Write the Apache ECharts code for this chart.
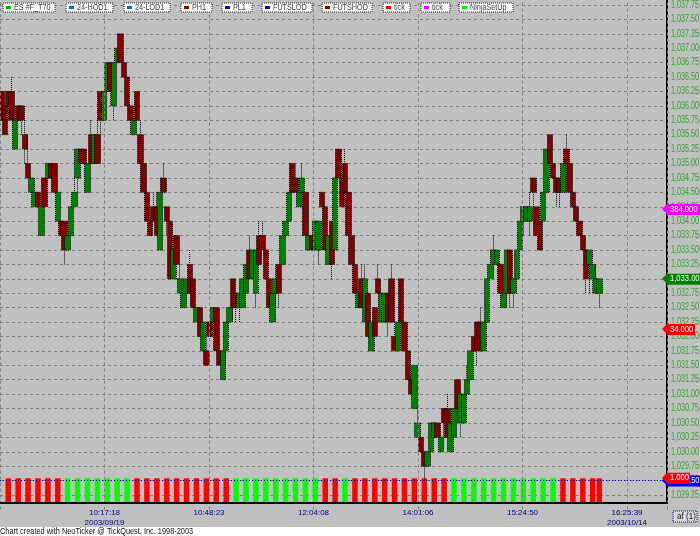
<!DOCTYPE html>
<html>
<head>
<meta charset="utf-8">
<script src="https://cdn.jsdelivr.net/npm/echarts@6/dist/echarts.min.js"></script>
<style>html,body{margin:0;padding:0;background:#fff}#c{width:700px;height:536px}</style>
</head>
<body>
<div id="c"></div>
<script>
const opens=[1036.25,1036,1036.25,1036.25,1035.25,1036,1036,1035.5,1035,1034.5,
1034.25,1034.5,1033.75,1034.75,1034.75,1035,1035,1034,1034,1034,
1033.5,1033.75,1034.25,1034.75,1035.25,1035.25,1034.5,1035.5,1035,1035.5,
1036.25,1035.75,1036.25,1036.75,1036,1036.75,1037.25,1036.75,1036.5,1036,
1035.5,1036.25,1035.5,1035,1034.5,1034,1034.25,1034.25,1033.5,1034.75,
1034.25,1034,1033,1033.75,1032.75,1032.5,1032.75,1033.25,1033,1032.25,
1032.5,1031.75,1031.75,1032.25,1032.25,1032.5,1031.75,1031.25,1031.75,1032.25,
1033,1032.75,1032.5,1032.5,1032.75,1033.5,1033,1032.75,1033.75,1033.75,
1033.5,1033,1032.25,1032.75,1033.25,1033.25,1033.75,1034,1035,1034.75,
1034.25,1034.5,1034.5,1033.5,1033.75,1033.5,1033.5,1034.5,1034.25,1033.25,
1034,1033.5,1035.25,1034.75,1035,1034.5,1033.75,1033.25,1032.5,1033,
1032.25,1032.75,1031.75,1032.5,1033,1032.25,1032.25,1032.75,1033,1032,
1031.75,1033,1032.25,1031.75,1031.25,1030.75,1030.25,1030.25,1030,1029.75,
1030,1030.25,1030.5,1030,1030.75,1030.75,1030,1030.25,1031.25,1030.5,
1030.5,1031,1031.25,1032,1032.25,1032.25,1031.75,1032.25,1033,1033.25,
1033.25,1033.25,1032.5,1032.75,1033.5,1032.75,1033,1033.5,1034,1034,
1034,1034.75,1034.25,1034,1034,1034.5,1035.5,1035,1034.75,1034.75,
1034.5,1035.25,1035,1034.5,1034.25,1034,1033.75,1033.5,1033.25,1033,
1032.75,1032.75];
const closes=[1035.75,1035.5,1036,1035.75,1035.75,1035.75,1035.75,1035.25,1034.75,1034.75,
1034.5,1034.25,1034.25,1034.25,1035,1034.75,1034.5,1034.5,1033.75,1033.5,
1033.75,1034.25,1034.5,1035.25,1035,1035,1035,1035,1035.5,1035,
1035.75,1036.25,1036.75,1036.25,1036.75,1037,1036.75,1036.5,1036,1035.75,
1035.75,1035.75,1035,1034.5,1034,1033.75,1034,1033.75,1034.5,1034.5,
1034,1033,1033.5,1033.25,1033,1032.75,1033,1032.75,1032.5,1032.5,
1032,1032.25,1031.5,1032,1032.5,1031.75,1031.5,1031.75,1032.25,1032.5,
1032.5,1032.5,1032.75,1033,1033.25,1033,1033.5,1033.5,1033.25,1033.5,
1033,1032.5,1032.75,1033,1032.75,1033.75,1034,1034.5,1034.5,1034.5,
1034.5,1034.75,1033.75,1033.75,1033.5,1034,1034,1034.25,1033.5,1033.75,
1033.25,1034.75,1034.75,1034.25,1034.5,1033.75,1033.25,1032.75,1032.75,1032.5,
1033,1032,1032.25,1032,1032.75,1032.75,1032.75,1032.25,1032.25,1031.75,
1032.25,1032.25,1031.75,1031.25,1031,1031.5,1030.5,1030,1029.75,1030,
1030.5,1030.5,1030.25,1030.25,1030.5,1030.25,1030.5,1030.75,1030.75,1031,
1031,1031.25,1031.75,1031.75,1031.75,1031.75,1032.25,1033,1033.25,1033.5,
1033.5,1032.75,1032.75,1033.5,1032.75,1033,1033.5,1034,1034.25,1034.25,
1034.25,1034.5,1033.75,1033.5,1034.5,1035.25,1035,1034.75,1034.5,1034.5,
1035,1035,1034.5,1034.25,1034,1033.75,1033.5,1033,1033.5,1033.25,
1033,1033];
const lows=[1035.75,1035.5,1036,1035.75,1035.25,1035.75,1035.5,1035,1034.75,1034.5,
1034.25,1034.25,1033.75,1034.25,1034.75,1034.75,1034.5,1034,1033.75,1033.25,
1033.5,1033.75,1034.25,1034.5,1034.75,1035,1034.5,1035,1035,1035,
1035.5,1035.75,1036.25,1036,1035.75,1036.75,1036.75,1036.5,1036,1035.75,
1035.5,1035.75,1035,1034.5,1034,1033.75,1034,1033.75,1033.5,1034.5,
1033.75,1033,1033,1033.25,1032.75,1032.5,1032.75,1032.75,1032.5,1032.25,
1032,1031.75,1031.5,1032,1032.25,1031.75,1031.5,1031.25,1031.5,1032.25,
1032.25,1032.25,1032.25,1032.5,1032.75,1033,1033,1032.5,1033.25,1033.5,
1033,1032.5,1032.25,1032.5,1032.5,1033.25,1033.75,1034,1034.5,1034.5,
1034.25,1034.5,1033.75,1033.5,1033.5,1033.5,1033.25,1034.25,1033.5,1033.25,
1033,1033.5,1034.75,1034.25,1034.5,1033.75,1033.25,1032.75,1032.5,1032.5,
1032.25,1032,1031.75,1032,1032.75,1032.25,1032.25,1032,1032.25,1031.75,
1031.75,1032.25,1031.75,1031.25,1031,1030.75,1030.25,1030,1029.5,1029.75,
1030,1030.25,1030.25,1030,1030.25,1030.25,1030,1030.25,1030.75,1030.25,
1030.5,1031,1031.25,1031.75,1031.5,1031.75,1031.75,1032.25,1033,1033.25,
1033.25,1032.75,1032.5,1032.5,1032.5,1032.5,1033,1033.5,1033.75,1034,
1033.75,1034.25,1033.75,1033.5,1034,1034.5,1035,1034.75,1034.25,1034.25,
1034.5,1035,1034.5,1034.25,1034,1033.75,1033.5,1032.75,1032.75,1032.75,
1032.75,1032.5];
const highs=[1036.25,1036,1036.25,1036.5,1035.75,1036,1036,1035.75,1035.5,1034.75,
1034.5,1034.5,1034.25,1034.75,1035,1035,1035,1034.5,1034,1034,
1033.75,1034.25,1034.75,1035.25,1035.25,1035.25,1035,1035.75,1035.5,1035.75,
1036.25,1036.25,1036.75,1036.75,1036.75,1037,1037.25,1036.75,1036.5,1036,
1035.75,1036.25,1035.75,1035,1034.5,1034,1034.5,1034.5,1034.5,1035,
1034.25,1034,1033.5,1033.75,1033.25,1032.75,1033,1033.5,1033,1032.5,
1032.5,1032.25,1032,1032.25,1032.5,1032.5,1031.75,1031.75,1032.25,1032.5,
1033,1032.75,1032.75,1033,1033.25,1033.75,1033.5,1033.5,1034,1034,
1033.5,1033,1032.75,1033.25,1033.25,1033.75,1034,1034.5,1035,1035,
1034.5,1035,1034.5,1033.75,1033.75,1034,1034,1034.5,1034.25,1033.75,
1034,1034.75,1035.25,1034.75,1035.25,1034.5,1033.75,1033.25,1032.75,1033.25,
1033.25,1032.75,1032.25,1032.5,1033.25,1032.75,1032.75,1032.75,1033.25,1032.25,
1032.25,1033,1032.25,1031.75,1031.25,1031.5,1030.75,1030.25,1030,1030,
1030.5,1030.5,1030.5,1030.25,1030.75,1031,1030.5,1030.75,1031.25,1031,
1031,1031.5,1031.75,1032,1032.25,1032.5,1032.25,1033,1033.5,1033.75,
1033.5,1033.25,1032.75,1033.5,1033.5,1033,1033.5,1034,1034.25,1034.25,
1034.5,1034.75,1034.25,1034,1034.5,1035.25,1035.5,1035,1034.75,1034.75,
1035,1035.5,1035,1034.5,1034.25,1034,1033.75,1033.5,1033.5,1033.5,
1033.25,1033];
const setupBars='RRRRRRGGGGGGGRRRRRRRRRRGGGGGGGGGRRGRRRRRRRRRRGGGGGGGGGGGRRRRR'.split('');
const timeLabels=['10:17:18\n2003/09/19','10:48:23','12:04:08','14:01:06','15:24:50','16:25:39\n2003/10/14'];
const priceTicks=[1037.75,1037.5,1037.25,1037,1036.75,1036.5,1036.25,1036,1035.75,1035.5,1035.25,1035,1034.75,1034.5,1034.25,1034,1033.75,1033.5,1033.25,1033,1032.75,1032.5,1032.25,1032,1031.75,1031.5,1031.25,1031,1030.75,1030.5,1030.25,1030,1029.75,1029.5,1029.25];
const tagValues=[1034.21,1033,1032.13,1029.5,1029.55];
const tagTexts=['384.000','1,033.00','34.000','1,029.50','1.000'];
const tagColors=['#ff00ff','#008000','#ff0000','#0000ff','#ff0000'];
const tagEdges=[33,33,28,33,23];
const chipNames=['ES #F_T70','24-HOD1','24-LOD1','PH1','PL1','FUTSLOD','FUTSHOD','tick','tick','NinjaSetUp'];
const chipLefts=[3,66,124,181,222,262,322,383,421,459];
const chipRights=[55,113,170,212,252,312,372,410,450,513];
const chipIconColors=['#00c000','#008080','#008080','#800000','#0000c0','#0000c0','#800000','#ff0000','#ff00ff','#00ff00'];
const FONT='"Liberation Sans"';

const chart=echarts.init(document.getElementById('c'),null,{renderer:'canvas',width:700,height:536});
const candleData=opens.map((o,i)=>[o,closes[i],lows[i],highs[i]]);
const cats=Array.from({length:202},(_,i)=>String(i));
const barData=cats.map(()=>'-');
setupBars.forEach((s,k)=>{
  const idx=Math.min(2+3*k,opens.length-1);
  barData[idx]={value:1,itemStyle:{color:s==='R'?'#ff0000':'#00ff00'}};
});
const fmtPrice=v=>{const s=v.toFixed(2);return s[0]+','+s.slice(1)};
const chipGraphics=[];
chipNames.forEach((n,i)=>{
  const l=chipLefts[i],r=chipRights[i];
  chipGraphics.push({type:'rect',z:50,shape:{x:l,y:3,width:r-l,height:9},
    style:{fill:'#ffffff',stroke:'#202020',lineWidth:1,lineDash:[1,1]}});
  chipGraphics.push({type:'rect',z:51,shape:{x:l+3,y:6,width:5,height:3},style:{fill:chipIconColors[i]}});
  chipGraphics.push({type:'text',z:51,x:l+11,y:7.5,scaleX:0.76,style:{text:n,fill:'#404040',font:'9.5px '+FONT,verticalAlign:'middle'}});
});
const option={
  animation:false,
  backgroundColor:'#c0c0c0',
  grid:{left:0,top:-9.42,right:33,bottom:26.6,outerBoundsMode:'none',containLabel:false},
  xAxis:[
    {type:'category',data:cats,show:false,boundaryGap:true},
    {type:'value',min:0,max:667,interval:104.5,position:'bottom',offset:-6.4,z:5,
     axisLine:{show:true,onZero:false,lineStyle:{color:'#000',width:2}},
     axisTick:{show:false},
     axisLabel:{color:'#000080',fontFamily:FONT,fontSize:8,lineHeight:10,margin:5,showMinLabel:false,showMaxLabel:false,
       formatter:v=>{const k=Math.round(v/104.5)-1;return k>=0&&k<timeLabels.length&&v<660?timeLabels[k]:''}},
     splitLine:{show:true,lineStyle:{color:'#808080',type:[3,3],width:1}}}
  ],
  yAxis:[
    {type:'value',position:'right',min:1029,max:1038,interval:0.25,
     axisLine:{show:true,onZero:false,lineStyle:{color:'#000',width:2}},
     axisTick:{show:false},
     axisLabel:{show:false},
     splitLine:{show:true,lineStyle:{color:'#808080',type:[3,3],width:1}}},
    {type:'value',show:false,min:0,max:16.68}
  ],
  graphic:[
    {type:'rect',z:1,silent:true,shape:{x:0,y:504,width:668,height:7},style:{fill:'#c0c0c0'}},
    {type:'rect',z:1,silent:true,shape:{x:0,y:527,width:700,height:9},style:{fill:'#ffffff'}},
    {type:'text',z:40,x:0,y:532,scaleX:0.82,style:{text:'Chart created with NeoTicker @ TickQuest, Inc. 1998-2003',fill:'#101010',font:'9px '+FONT,verticalAlign:'middle'}},
    {type:'rect',z:40,shape:{x:673,y:511,width:24,height:11},style:{fill:'#d8d8d8',stroke:'#000080',lineWidth:1,lineDash:[1,1]}},
    {type:'text',z:41,x:677,y:516.5,scaleX:0.85,style:{text:'af (1)',fill:'#101030',font:'9.5px '+FONT,verticalAlign:'middle'}},
    ...chipGraphics
  ],
  series:[
    {type:'bar',xAxisIndex:0,yAxisIndex:1,data:barData,barWidth:5.5,barGap:'-100%',z:0.5},
    {type:'candlestick',xAxisIndex:0,yAxisIndex:0,data:candleData,barWidth:6,z:3,
     itemStyle:{color:'#008000',color0:'#800000',borderColor:'#000',borderColor0:'#000',borderWidth:1,borderType:'dotted'},
     markLine:{silent:true,symbol:'none',label:{show:false},lineStyle:{color:'#0000c0',type:[1,2],width:1},data:[{yAxis:1029.5}]}},
    {type:'custom',xAxisIndex:0,yAxisIndex:0,z:10,clip:false,silent:true,
     data:priceTicks.map(v=>[0,v]),
     encode:{x:0,y:1},
     renderItem:(p,api)=>{
       const v=api.value(1);
       const y=api.coord([0,v])[1];
       return {type:'text',x:671,y:y,scaleX:0.72,style:{text:fmtPrice(v),fill:'#2fa52f',font:'10px '+FONT,verticalAlign:'middle'}};
     }},
    {type:'custom',xAxisIndex:0,yAxisIndex:0,z:20,clip:false,silent:true,
     data:tagValues.map((v,i)=>[0,v,i]),
     encode:{x:0,y:1},
     renderItem:(p,api)=>{
       const i=api.value(2);
       const y=api.coord([0,api.value(1)])[1];
       const x=667;
       return {type:'group',children:[
         {type:'polygon',z2:10+2*i,shape:{points:[[662,y],[x,y-5],[x+tagEdges[i],y-5],[x+tagEdges[i],y+6],[x,y+6],[x,y+5]]},style:{fill:tagColors[i]}},
         {type:'text',z2:11+2*i,x:x+3,y:y,scaleX:0.8,style:{text:tagTexts[i],fill:'#fff',font:'9.5px '+FONT,verticalAlign:'middle'}}
       ]};
     }}
  ]
};
chart.setOption(option);
</script>
</body>
</html>
